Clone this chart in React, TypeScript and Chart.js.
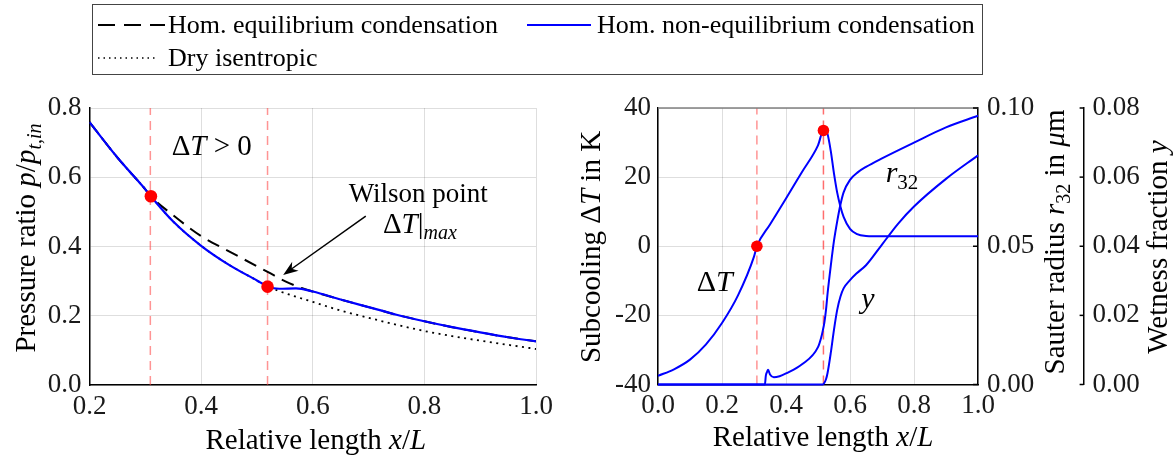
import React, { useEffect, useRef } from 'react';
import { Chart, registerables } from 'chart.js';
Chart.register(...registerables);

const FONT = "'Liberation Serif', 'Times New Roman', serif";
const GRID = 'rgba(0,0,0,0.13)';
const BLUE = '#0000ff';

// ---------- Left panel: pressure ratio ----------
const pressureX = [0.2, 0.25, 0.3, 0.31, 0.35, 0.4, 0.45, 0.5, 0.52, 0.54, 0.57, 0.6, 0.65, 0.7, 0.75, 0.8, 0.85, 0.9, 0.95, 1.0];
const nonEquilibriumP = [0.759, 0.657, 0.565, 0.545, 0.472, 0.402, 0.347, 0.302, 0.284, 0.278, 0.279, 0.27, 0.247, 0.225, 0.203, 0.184, 0.167, 0.152, 0.138, 0.126];
const dryX = [0.2, 0.25, 0.3, 0.31, 0.35, 0.4, 0.45, 0.5, 0.52, 0.54, 0.57, 0.6, 0.65, 0.7, 0.75, 0.8, 0.85, 0.9, 0.95, 1.0];
const dryIsentropicP = [0.759, 0.657, 0.565, 0.545, 0.472, 0.402, 0.347, 0.302, 0.284, 0.271, 0.255, 0.24, 0.215, 0.194, 0.174, 0.156, 0.141, 0.128, 0.116, 0.104];
const eqX = [0.2, 0.25, 0.3, 0.31, 0.35, 0.4, 0.45, 0.5, 0.52, 0.55, 0.58, 0.6, 0.65, 0.7, 0.75, 0.8, 0.85, 0.9, 0.95, 1.0];
const equilibriumP = [0.759, 0.657, 0.565, 0.545, 0.49, 0.43, 0.386, 0.343, 0.326, 0.3, 0.28, 0.27, 0.247, 0.225, 0.203, 0.184, 0.167, 0.152, 0.138, 0.126];
const leftMarkerX = [0.31, 0.519];
const leftMarkerY = [0.545, 0.284];
const leftGuideX = [0.309, 0.519];
const leftXTicks = [0.2, 0.4, 0.6, 0.8, 1.0];
const leftYTicks = [0, 0.2, 0.4, 0.6, 0.8];
const dtPositiveLabelPos = [0.419, 0.693];
const wilsonTextPos = [0.789, 0.554];
const wilsonSubTextPos = [0.792, 0.468];
const arrowFrom = [0.695, 0.488];
const arrowTo = [0.547, 0.318];

// ---------- Right panel: subcooling, radius, wetness ----------
const subcoolX = [0, 0.05, 0.1, 0.15, 0.2, 0.25, 0.3, 0.309, 0.35, 0.4, 0.45, 0.5, 0.517, 0.525, 0.53, 0.54, 0.55, 0.56, 0.57, 0.58, 0.6, 0.62, 0.65, 0.7, 0.8, 0.9, 1.0];
const subcoolK = [-37.5, -35.6, -32.8, -28.4, -22.2, -14.2, -3.0, 0, 6.3, 13.8, 21.5, 29.2, 33.5, 33.2, 32.4, 27.5, 21.0, 15.5, 11.5, 8.5, 5.0, 3.6, 3.0, 2.9, 2.9, 2.9, 2.9];
const radiusX = [0, 0.334, 0.337, 0.341, 0.344, 0.35, 0.362, 0.38, 0.4, 0.45, 0.5, 0.51, 0.515, 0.52, 0.525, 0.53, 0.54, 0.55, 0.56, 0.57, 0.58, 0.6, 0.625, 0.65, 0.7, 0.8, 0.9, 1.0];
const radiusUm = [0, 0, 0.0032, 0.0046, 0.0053, 0.0036, 0.0026, 0.003, 0.004, 0.0073, 0.0135, 0.017, 0.0195, 0.0225, 0.027, 0.033, 0.043, 0.052, 0.059, 0.065, 0.0695, 0.074, 0.0768, 0.0787, 0.0818, 0.0875, 0.093, 0.0972];
const wetnessX = [0, 0.515, 0.52, 0.525, 0.53, 0.54, 0.55, 0.56, 0.57, 0.58, 0.6, 0.62, 0.65, 0.7, 0.75, 0.8, 0.9, 1.0];
const wetnessY = [0, 0, 0.0005, 0.0015, 0.0034, 0.0092, 0.0159, 0.0216, 0.0254, 0.0278, 0.0302, 0.0321, 0.0345, 0.0405, 0.0465, 0.0515, 0.0595, 0.0663];
const rightMarkerX = [0.309, 0.517];
const rightMarkerY = [0, 33.5];
const rightGuideX = [0.309, 0.517];
const rightXTicks = [0, 0.2, 0.4, 0.6, 0.8, 1.0];
const subcoolTicks = [-40, -20, 0, 20, 40];
const radiusTicks = [0, 0.05, 0.1];
const wetnessTicks = [0, 0.02, 0.04, 0.06, 0.08];
const dtLabelPos = [0.177, -10.2];
const r32LabelPos = [0.7625, 21.4];
const yLabelPos = [0.656, -15];

type Seg = { t: string; it?: boolean; sub?: boolean };

function drawRich(ctx: CanvasRenderingContext2D, segs: Seg[], cx: number, cy: number, size: number, rot = 0) {
  ctx.save();
  ctx.translate(cx, cy);
  if (rot) ctx.rotate(rot);
  ctx.fillStyle = '#000';
  ctx.textBaseline = 'alphabetic';
  ctx.textAlign = 'left';
  const fontOf = (s: Seg) => `${s.it ? 'italic ' : ''}${s.sub ? Math.round(size * 0.7) : size}px ${FONT}`;
  const widths = segs.map((s) => {
    ctx.font = fontOf(s);
    return ctx.measureText(s.t).width;
  });
  const total = widths.reduce((a, b) => a + b, 0);
  let x = -total / 2;
  const base = size * 0.33;
  segs.forEach((s, i) => {
    ctx.font = fontOf(s);
    ctx.fillText(s.t, x, base + (s.sub ? size * 0.22 : 0));
    x += widths[i];
  });
  ctx.restore();
}

const pts = (xs: number[], ys: number[]) => xs.map((x, i) => ({ x, y: ys[i] }));
const tickFont = { family: FONT, size: 27 };

function fixTicks(values: number[]) {
  return (scale: any) => {
    scale.ticks = values.map((v) => ({ value: v }));
  };
}

function leftConfig(): any {
  const decor = {
    id: 'leftDecor',
    afterDraw(chart: any) {
      const ctx = chart.ctx as CanvasRenderingContext2D;
      const sx = chart.scales.x;
      const sy = chart.scales.y;
      drawRich(ctx, [{ t: 'Δ' }, { t: 'T', it: true }, { t: ' > 0' }], sx.getPixelForValue(dtPositiveLabelPos[0]), sy.getPixelForValue(dtPositiveLabelPos[1]), 29);
      drawRich(ctx, [{ t: 'Wilson point' }], sx.getPixelForValue(wilsonTextPos[0]), sy.getPixelForValue(wilsonTextPos[1]), 27);
      drawRich(ctx, [{ t: 'Δ' }, { t: 'T', it: true }, { t: '|' }, { t: 'max', it: true, sub: true }], sx.getPixelForValue(wilsonSubTextPos[0]), sy.getPixelForValue(wilsonSubTextPos[1]), 29);
      const x0 = sx.getPixelForValue(arrowFrom[0]);
      const y0 = sy.getPixelForValue(arrowFrom[1]);
      const x1 = sx.getPixelForValue(arrowTo[0]);
      const y1 = sy.getPixelForValue(arrowTo[1]);
      const ang = Math.atan2(y1 - y0, x1 - x0);
      ctx.save();
      ctx.strokeStyle = '#000';
      ctx.fillStyle = '#000';
      ctx.lineWidth = 1.5;
      ctx.beginPath();
      ctx.moveTo(x0, y0);
      ctx.lineTo(x1 - 8 * Math.cos(ang), y1 - 8 * Math.sin(ang));
      ctx.stroke();
      const L = 15, W = 5.5;
      ctx.beginPath();
      ctx.moveTo(x1, y1);
      ctx.lineTo(x1 - L * Math.cos(ang) + W * Math.sin(ang), y1 - L * Math.sin(ang) - W * Math.cos(ang));
      ctx.lineTo(x1 - 0.7 * L * Math.cos(ang), y1 - 0.7 * L * Math.sin(ang));
      ctx.lineTo(x1 - L * Math.cos(ang) - W * Math.sin(ang), y1 - L * Math.sin(ang) + W * Math.cos(ang));
      ctx.closePath();
      ctx.fill();
      ctx.restore();
      const ca = chart.chartArea;
      drawRich(ctx, [{ t: 'Pressure ratio ' }, { t: 'p', it: true }, { t: '/' }, { t: 'p', it: true }, { t: 't,in', it: true, sub: true }], 25, 238, 29, -Math.PI / 2);
      drawRich(ctx, [{ t: 'Relative length ' }, { t: 'x', it: true }, { t: '/' }, { t: 'L', it: true }], (ca.left + ca.right) / 2 + 3, 439, 29);
    },
  };
  const guide = (x: number) => ({
    data: [{ x, y: 0 }, { x, y: 0.8 }],
    borderColor: 'rgba(255,60,60,0.55)',
    borderWidth: 1.5,
    borderDash: [9, 6],
    pointRadius: 0,
    order: 5,
  });
  return {
    type: 'line',
    data: {
      datasets: [
        { data: pts(leftMarkerX, leftMarkerY), showLine: false, pointRadius: 6.3, pointBackgroundColor: '#ff0000', pointBorderWidth: 0, order: 0 },
        { label: 'Hom. non-equilibrium condensation', data: pts(pressureX, nonEquilibriumP), borderColor: BLUE, borderWidth: 2.2, pointRadius: 0, cubicInterpolationMode: 'monotone', order: 1 },
        { label: 'Hom. equilibrium condensation', data: pts(eqX, equilibriumP), borderColor: '#000', borderWidth: 2, borderDash: [13, 8], pointRadius: 0, cubicInterpolationMode: 'monotone', order: 2 },
        { label: 'Dry isentropic', data: pts(dryX, dryIsentropicP), borderColor: '#000', borderWidth: 1.8, borderDash: [2, 4.5], pointRadius: 0, cubicInterpolationMode: 'monotone', order: 3 },
        guide(leftGuideX[0]),
        guide(leftGuideX[1]),
      ],
    },
    options: {
      responsive: false,
      animation: false,
      devicePixelRatio: 1,
      events: [],
      layout: { padding: { left: 0, top: 108, right: 24, bottom: 0 } },
      plugins: { legend: { display: false }, tooltip: { enabled: false } },
      scales: {
        x: {
          type: 'linear', min: 0.2, max: 1.0,
          grid: { color: GRID, drawTicks: false },
          border: { color: '#000', width: 1.5 },
          ticks: { font: tickFont, color: '#1a1a1a', padding: 6, maxRotation: 0, autoSkip: false, callback: (v: any) => Number(v).toFixed(1) },
          afterBuildTicks: fixTicks(leftXTicks),
          afterFit: (s: any) => { s.height = 76; s.paddingLeft = 0; s.paddingRight = 0; },
        },
        y: {
          type: 'linear', min: 0, max: 0.8,
          grid: { color: GRID, drawTicks: false },
          border: { color: '#000', width: 1.5 },
          ticks: { font: tickFont, color: '#1a1a1a', padding: 8, callback: (v: any) => Number(v).toFixed(1) },
          afterBuildTicks: fixTicks(leftYTicks),
          afterFit: (s: any) => { s.width = 89.5; s.paddingTop = 0; s.paddingBottom = 0; },
        },
      },
    },
    plugins: [decor],
  };
}

function rightConfig(): any {
  const decor = {
    id: 'rightDecor',
    afterDraw(chart: any) {
      const ctx = chart.ctx as CanvasRenderingContext2D;
      const ca = chart.chartArea;
      const sx = chart.scales.x;
      const sy = chart.scales.y;
      const sr = chart.scales.yRadius;
      const sw = chart.scales.yWet;
      ctx.save();
      ctx.strokeStyle = '#808080';
      ctx.lineWidth = 1.5;
      ctx.beginPath();
      ctx.moveTo(ca.left, ca.top);
      ctx.lineTo(ca.right, ca.top);
      ctx.stroke();
      ctx.strokeStyle = '#000';
      ctx.lineWidth = 1.5;
      radiusTicks.forEach((v) => {
        const y = sr.getPixelForValue(v);
        ctx.beginPath();
        ctx.moveTo(ca.right, y);
        ctx.lineTo(ca.right - 5, y);
        ctx.stroke();
      });
      wetnessTicks.forEach((v) => {
        const y = sw.getPixelForValue(v);
        ctx.beginPath();
        ctx.moveTo(sw.left, y);
        ctx.lineTo(sw.left - 4, y);
        ctx.stroke();
      });
      ctx.restore();
      drawRich(ctx, [{ t: 'Δ' }, { t: 'T', it: true }], sx.getPixelForValue(dtLabelPos[0]), sy.getPixelForValue(dtLabelPos[1]), 30);
      drawRich(ctx, [{ t: 'r', it: true }, { t: '32', sub: true }], sx.getPixelForValue(r32LabelPos[0]), sy.getPixelForValue(r32LabelPos[1]), 30);
      drawRich(ctx, [{ t: 'y', it: true }], sx.getPixelForValue(yLabelPos[0]), sy.getPixelForValue(yLabelPos[1]), 30);
      drawRich(ctx, [{ t: 'Subcooling ' }, { t: 'Δ' }, { t: 'T', it: true }, { t: ' in K' }], 590 - 560, 247, 29, -Math.PI / 2);
      drawRich(ctx, [{ t: 'Sauter radius ' }, { t: 'r', it: true }, { t: '32', sub: true }, { t: ' in ' }, { t: 'μ', it: true }, { t: 'm' }], 1054 - 560, 242, 29, -Math.PI / 2);
      drawRich(ctx, [{ t: 'Wetness fraction ' }, { t: 'y', it: true }], 1157 - 560, 247, 29, -Math.PI / 2);
      drawRich(ctx, [{ t: 'Relative length ' }, { t: 'x', it: true }, { t: '/' }, { t: 'L', it: true }], (ca.left + ca.right) / 2 + 5, 436, 29);
    },
  };
  const guide = (x: number, alpha: number) => ({
    data: [{ x, y: -40 }, { x, y: 40 }],
    yAxisID: 'y',
    borderColor: `rgba(255,60,60,${alpha})`,
    borderWidth: 1.5,
    borderDash: [9, 6],
    pointRadius: 0,
    order: 5,
  });
  return {
    type: 'line',
    data: {
      datasets: [
        { data: pts(rightMarkerX, rightMarkerY), yAxisID: 'y', showLine: false, pointRadius: 5.8, pointBackgroundColor: '#ff0000', pointBorderWidth: 0, order: 0 },
        { label: 'ΔT', data: pts(subcoolX, subcoolK), yAxisID: 'y', borderColor: BLUE, borderWidth: 2, pointRadius: 0, cubicInterpolationMode: 'monotone', order: 1 },
        { label: 'r32', data: pts(radiusX, radiusUm), yAxisID: 'yRadius', borderColor: BLUE, borderWidth: 2, pointRadius: 0, cubicInterpolationMode: 'monotone', clip: 4, order: 1 },
        { label: 'y', data: pts(wetnessX, wetnessY), yAxisID: 'yWet', borderColor: BLUE, borderWidth: 2, pointRadius: 0, cubicInterpolationMode: 'monotone', clip: 4, order: 1 },
        guide(rightGuideX[0], 0.55),
        guide(rightGuideX[1], 0.75),
      ],
    },
    options: {
      responsive: false,
      animation: false,
      devicePixelRatio: 1,
      events: [],
      layout: { padding: { left: 0, top: 108, right: 0, bottom: 0 } },
      plugins: { legend: { display: false }, tooltip: { enabled: false } },
      scales: {
        x: {
          type: 'linear', min: 0, max: 1.0,
          grid: { color: GRID, drawTicks: false },
          border: { color: '#000', width: 1.5 },
          ticks: { font: tickFont, color: '#1a1a1a', padding: 5, maxRotation: 0, autoSkip: false, callback: (v: any) => Number(v).toFixed(1) },
          afterBuildTicks: fixTicks(rightXTicks),
          afterFit: (s: any) => { s.height = 76.5; s.paddingLeft = 0; s.paddingRight = 0; },
        },
        y: {
          type: 'linear', axis: 'y', position: 'left', min: -40, max: 40,
          grid: { color: GRID, drawTicks: false },
          border: { color: '#000', width: 1.5 },
          ticks: { font: tickFont, color: '#1a1a1a', padding: 7, callback: (v: any) => String(v) },
          afterBuildTicks: fixTicks(subcoolTicks),
          afterFit: (s: any) => { s.width = 98; s.paddingTop = 0; s.paddingBottom = 0; },
        },
        yRadius: {
          type: 'linear', axis: 'y', position: 'right', weight: 0, min: 0, max: 0.1,
          grid: { drawOnChartArea: false, drawTicks: false },
          border: { color: '#000', width: 1.5 },
          ticks: { font: tickFont, color: '#1a1a1a', padding: 9, callback: (v: any) => Number(v).toFixed(2) },
          afterBuildTicks: fixTicks(radiusTicks),
          afterFit: (s: any) => { s.width = 105.6; s.paddingTop = 0; s.paddingBottom = 0; },
        },
        yWet: {
          type: 'linear', axis: 'y', position: 'right', weight: 1, min: 0, max: 0.08,
          grid: { drawOnChartArea: false, drawTicks: false },
          border: { color: '#000', width: 1.5 },
          ticks: { font: tickFont, color: '#1a1a1a', padding: 9, callback: (v: any) => Number(v).toFixed(2) },
          afterBuildTicks: fixTicks(wetnessTicks),
          afterFit: (s: any) => { s.width = 91.4; s.paddingTop = 0; s.paddingBottom = 0; },
        },
      },
    },
    plugins: [decor],
  };
}

const legendText: React.CSSProperties = {
  position: 'absolute', fontFamily: FONT, fontSize: 26, lineHeight: '30px', whiteSpace: 'nowrap', color: '#000',
};

function Sample({ left, top, width, dash, color, lw }: { left: number; top: number; width: number; dash?: string; color: string; lw: number }) {
  return (
    <svg style={{ position: 'absolute', left, top: top - 5 }} width={width} height={10}>
      <line x1={0} y1={5} x2={width} y2={5} stroke={color} strokeWidth={lw} strokeDasharray={dash} />
    </svg>
  );
}

export default function App() {
  const leftRef = useRef<HTMLCanvasElement>(null);
  const rightRef = useRef<HTMLCanvasElement>(null);
  useEffect(() => {
    const c1 = new Chart(leftRef.current as HTMLCanvasElement, leftConfig());
    const c2 = new Chart(rightRef.current as HTMLCanvasElement, rightConfig());
    return () => {
      c1.destroy();
      c2.destroy();
    };
  }, []);
  return (
    <div style={{ position: 'absolute', left: 0, top: 0, width: 1175, height: 461, background: '#fff', overflow: 'hidden' }}>
      <canvas ref={leftRef} width={560} height={461} style={{ position: 'absolute', left: 0, top: 0, width: 560, height: 461 }} />
      <canvas ref={rightRef} width={615} height={461} style={{ position: 'absolute', left: 560, top: 0, width: 615, height: 461 }} />
      <div style={{ position: 'absolute', left: 92, top: 4, width: 891, height: 71, border: '1.5px solid #444', boxSizing: 'border-box' }}>
        <Sample left={5} top={20} width={67} dash="17 9" color="#000" lw={2.2} />
        <span style={{ ...legendText, left: 75, top: 20 - 15 }}>Hom. equilibrium condensation</span>
        <Sample left={434} top={20} width={64} color={BLUE} lw={2.2} />
        <span style={{ ...legendText, left: 504, top: 20 - 15 }}>Hom. non-equilibrium condensation</span>
        <Sample left={5} top={53} width={60} dash="1.5 4" color="#000" lw={1.5} />
        <span style={{ ...legendText, left: 75, top: 53 - 15 }}>Dry isentropic</span>
      </div>
    </div>
  );
}
